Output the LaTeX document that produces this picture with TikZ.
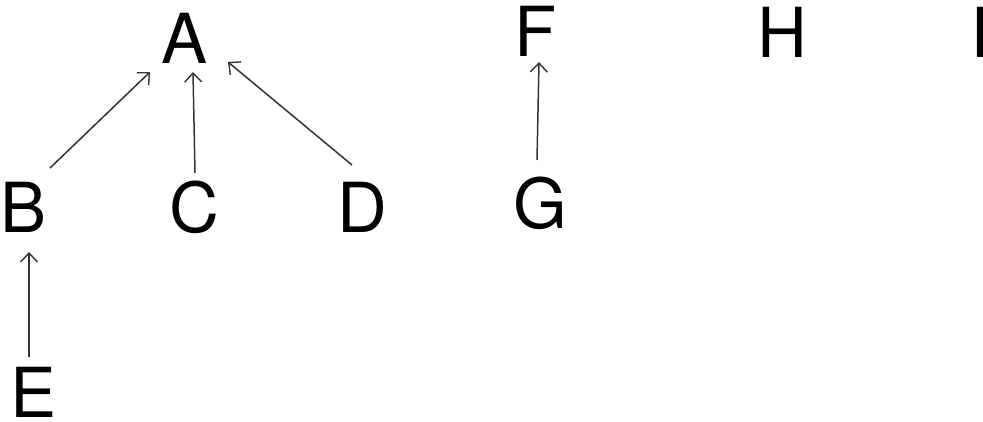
\documentclass[tikz,border=0pt]{standalone}
\usepackage{fontspec}
\setmainfont{TeX Gyre Heros}
\usetikzlibrary{arrows.meta}
\begin{document}
\begin{tikzpicture}[x=1pt,y=-1pt,
  lbl/.style={inner sep=0pt, font=\fontsize{69}{80}\selectfont},
  arr/.style={draw=black!80, line width=1.5pt, -{Straight Barb[length=9pt,width=17pt,line width=1.4pt]}}]
\useasboundingbox[fill=white] (0,0) rectangle (983,421);
\node[lbl] (A) at (185,38) {A};
\node[lbl] (B) at (24,207) {B};
\node[lbl] (C) at (194,207) {C};
\node[lbl] (D) at (362,207) {D};
\node[lbl] (E) at (34,392) {E};
\node[lbl] (F) at (536,31) {F};
\node[lbl] (G) at (540,203) {G};
\node[lbl] (H) at (782,32) {H};
\node[lbl] (I) at (980,32) {I};
\draw[arr] ([shift={(26,-39)}]B.center) -- ([shift={(-35,34)}]A.center);
\draw[arr] ([shift={(1,-34)}]C.center) -- ([shift={(8,34)}]A.center);
\draw[arr] ([shift={(-10,-42)}]D.center) -- ([shift={(43,24)}]A.center);
\draw[arr] ([shift={(-3,-43)}]G.center) -- ([shift={(3,31)}]F.center);
\draw[arr] ([shift={(-5,-35)}]E.center) -- ([shift={(5,45)}]B.center);
\end{tikzpicture}
\end{document}
